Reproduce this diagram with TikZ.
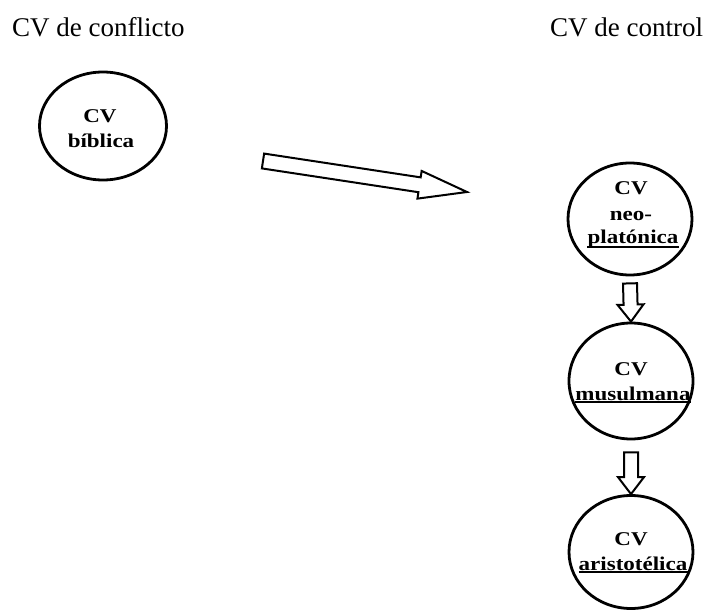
\documentclass[tikz,border=0pt]{standalone}
\usepackage{fontspec}
\setmainfont{Liberation Serif}
\usetikzlibrary{shapes.geometric,calc}
% horizontally stretched bold labels inside the bubbles
\newcommand{\cvwide}[1]{\scalebox{1.18}[1]{#1}}
% hollow block arrow: from, to, shaft half-width, head half-width, head length
\newcommand{\fatarrow}[5]{%
  \coordinate (fa-s) at #1;
  \coordinate (fa-e) at #2;
  \coordinate (fa-h) at ($(fa-e)!#5!(fa-s)$);
  \draw[arrowline] ($(fa-s)!#3!90:(fa-e)$) -- ($(fa-h)!#3!90:(fa-e)$)
    -- ($(fa-h)!#4!90:(fa-e)$) -- (fa-e) -- ($(fa-h)!#4!-90:(fa-e)$)
    -- ($(fa-h)!#3!-90:(fa-e)$) -- ($(fa-s)!#3!-90:(fa-e)$) -- cycle;}
\begin{document}
\begin{tikzpicture}[x=1pt,y=-1pt,
  bubble/.style={ellipse, draw, line width=2.8pt, inner sep=0pt},
  cvline/.style={font=\bfseries\fontsize{19.5}{19.5}\selectfont, inner sep=0pt, anchor=base},
  heading/.style={font=\fontsize{27}{27}\selectfont, inner sep=0pt, anchor=base west},
  arrowline/.style={draw, fill=white, line width=2pt, line join=miter},
  uline/.style={line width=1.8pt}]
\useasboundingbox (0,0) rectangle (712,612);

% headings
\node[heading] (h1) at (12,37) {CV de conflicto};
\node[heading] (h2) at (550,37) {CV de control};

% left bubble
\node[bubble, minimum width=127pt, minimum height=108pt] (c1) at (103,126) {};
\node[cvline] (c1a) at (100,123) {\cvwide{CV}};
\node[cvline] (c1b) at (101,148) {\cvwide{bíblica}};

% right column
\node[bubble, minimum width=124pt, minimum height=112pt] (c2) at (630,219) {};
\node[cvline] (c2a) at (631,195) {\cvwide{CV}};
\node[cvline] (c2b) at (631,221) {\cvwide{neo-}};
\node[cvline] (c2c) at (633,244) {\cvwide{platónica}};
\draw[uline] ($(c2c.base west)+(0,3)$) -- ($(c2c.base east)+(0,3)$);

\node[bubble, minimum width=124pt, minimum height=116pt] (c3) at (631,381) {};
\node[cvline] (c3a) at (631,375) {\cvwide{CV}};
\node[cvline] (c3b) at (633,400) {\cvwide{musulmana}};
\draw[uline] ($(c3b.base west)+(0,2)$) -- ($(c3b.base east)+(0,2)$);

\node[bubble, minimum width=124pt, minimum height=113pt] (c4) at (631,552) {};
\node[cvline] (c4a) at (631,545) {\cvwide{CV}};
\node[cvline] (c4b) at (633,570) {\cvwide{aristotélica}};
\draw[uline] ($(c4b.base west)+(0,2)$) -- ($(c4b.base east)+(0,2)$);

% block arrows
\coordinate (bigs) at (263,161);
\coordinate (bige) at (467,192);
\fatarrow{(bigs)}{(bige)}{7.5pt}{14pt}{48pt}
\fatarrow{($(c2.south)+(0,7)$)}{(c3.north)}{7pt}{13pt}{17pt}
\fatarrow{($(c3.south)+(0,12)$)}{(c4.north)}{7pt}{13pt}{17pt}
\end{tikzpicture}
\end{document}
